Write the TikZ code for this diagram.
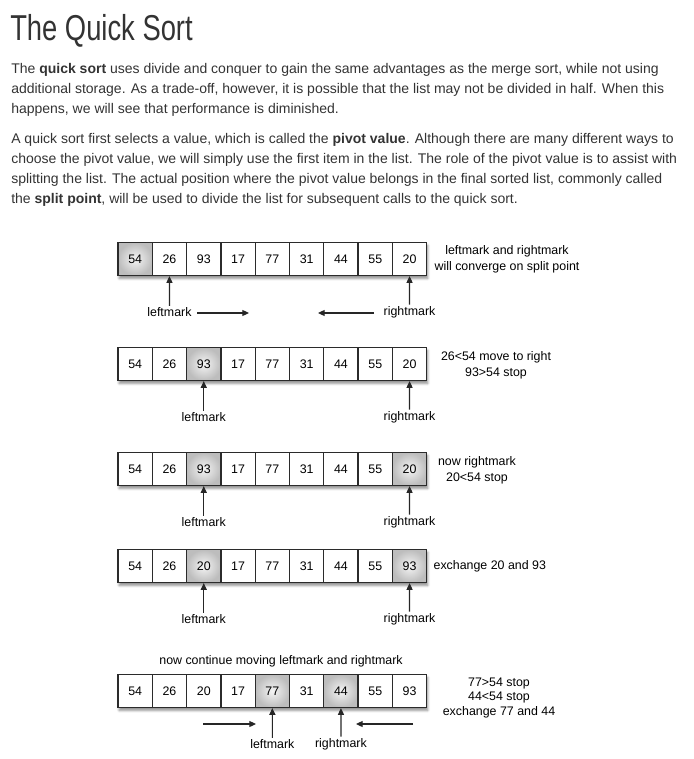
\documentclass[tikz,border=0pt]{standalone}
\usepackage{fontspec}
\setmainfont{Liberation Sans}
\newfontfamily\titlefont{Liberation Sans}[FakeStretch=0.76]
\newfontfamily\diagfont{Liberation Sans}
\usetikzlibrary{arrows.meta,shadows,shadows.blur}
\definecolor{bodytext}{HTML}{333333}
\definecolor{cellline}{HTML}{2B2B2B}
\tikzset{
  cellbox/.style={draw=cellline, line width=0.9pt, fill=white, minimum width=25.7pt, minimum height=24.75pt, inner sep=0pt, font=\diagfont\fontsize{9.3}{11}\selectfont},
  pivotbox/.style={cellbox, inner color=gray!8, outer color=gray!52},
  rowback/.style={minimum width=231.5pt, minimum height=24.75pt, fill=white, inner sep=0pt, blur shadow={shadow xshift=0.8pt, shadow yshift=-2.2pt, shadow blur steps=6, shadow blur radius=1.8pt, shadow opacity=45}},
  lab/.style={font=\diagfont\fontsize{9.3}{12}\selectfont, inner sep=1pt, align=center},
  markarrow/.style={-{Triangle[length=5pt,width=4.5pt]}, line width=0.85pt, draw=black!85},
  para/.style={anchor=base west, inner sep=0pt, text=bodytext, font=\fontsize{10.5}{15}\selectfont}
}
\begin{document}
\begin{tikzpicture}[x=0.75pt,y=0.75pt,yscale=-1,xscale=1]
\useasboundingbox (0,0) rectangle (693,759);

% Title and text
\node[anchor=base west, inner sep=0pt, text=bodytext, font=\titlefont\fontsize{27}{30}\selectfont] (title) at (10,40.7) {The Quick Sort};
\node[para] (p1) at (11,74) {The \textbf{quick sort} uses divide and conquer to gain the same advantages as the merge sort, while not using};
\node[para] (p2) at (11,94) {additional storage. As a trade-off, however, it is possible that the list may not be divided in half. When this};
\node[para] (p3) at (11,113.5) {happens, we will see that performance is diminished.};
\node[para] (p4) at (11,143.3) {A quick sort first selects a value, which is called the \textbf{pivot value}. Although there are many different ways to};
\node[para] (p5) at (11,163.3) {choose the pivot value, we will simply use the first item in the list. The role of the pivot value is to assist with};
\node[para] (p6) at (11,183.3) {splitting the list. The actual position where the pivot value belongs in the final sorted list, commonly called};
\node[para] (p7) at (11,203.3) {the \textbf{split point}, will be used to divide the list for subsequent calls to the quick sort.};

% Row 1
\node[rowback] (row1) at (272.35,259) {};
\foreach \v/\s [count=\i] in {54/pivotbox,26/cellbox,93/cellbox,17/cellbox,77/cellbox,31/cellbox,44/cellbox,55/cellbox,20/cellbox}
  \node[\s] (r1c\i) at (100.85+34.3*\i,259) {\v};
\node[lab] (lm1) at (169.45,312) {leftmark};
\node[lab] (rm1) at (409.55,312) {rightmark};
\draw[markarrow] (lm1) -- (r1c2);
\draw[markarrow] (rm1) -- (r1c9);
\coordinate (go1a) at (197,313);
\coordinate (go1b) at (249,313);
\coordinate (go1c) at (374,313);
\coordinate (go1d) at (318,313);
\draw[markarrow] (go1a) -- (go1b);
\draw[markarrow] (go1c) -- (go1d);
\node[lab] (note1) at (507,259) {leftmark and rightmark\\will converge on split point};

% Row 2
\node[rowback] (row2) at (272.35,364) {};
\foreach \v/\s [count=\i] in {54/cellbox,26/cellbox,93/pivotbox,17/cellbox,77/cellbox,31/cellbox,44/cellbox,55/cellbox,20/cellbox}
  \node[\s] (r2c\i) at (100.85+34.3*\i,364) {\v};
\node[lab] (lm2) at (203.75,417) {leftmark};
\node[lab] (rm2) at (409.55,417) {rightmark};
\draw[markarrow] (lm2) -- (r2c3);
\draw[markarrow] (rm2) -- (r2c9);
\node[lab] (note2) at (496,365) {26<54 move to right\\93>54 stop};

% Row 3
\node[rowback] (row3) at (272.35,469) {};
\foreach \v/\s [count=\i] in {54/cellbox,26/cellbox,93/pivotbox,17/cellbox,77/cellbox,31/cellbox,44/cellbox,55/cellbox,20/pivotbox}
  \node[\s] (r3c\i) at (100.85+34.3*\i,469) {\v};
\node[lab] (lm3) at (203.75,522) {leftmark};
\node[lab] (rm3) at (409.55,522) {rightmark};
\draw[markarrow] (lm3) -- (r3c3);
\draw[markarrow] (rm3) -- (r3c9);
\node[lab] (note3) at (477,470) {now rightmark\\20<54 stop};

% Row 4
\node[rowback] (row4) at (272.35,566) {};
\foreach \v/\s [count=\i] in {54/cellbox,26/cellbox,20/pivotbox,17/cellbox,77/cellbox,31/cellbox,44/cellbox,55/cellbox,93/pivotbox}
  \node[\s] (r4c\i) at (100.85+34.3*\i,566) {\v};
\node[lab] (lm4) at (203.75,619) {leftmark};
\node[lab] (rm4) at (409.55,619) {rightmark};
\draw[markarrow] (lm4) -- (r4c3);
\draw[markarrow] (rm4) -- (r4c9);
\node[lab, anchor=west] (note4) at (432,566) {exchange 20 and 93};

% Row 5
\node[lab] (head5) at (281,661) {now continue moving leftmark and rightmark};
\node[rowback] (row5) at (272.35,691) {};
\foreach \v/\s [count=\i] in {54/cellbox,26/cellbox,20/cellbox,17/cellbox,77/pivotbox,31/cellbox,44/pivotbox,55/cellbox,93/cellbox}
  \node[\s] (r5c\i) at (100.85+34.3*\i,691) {\v};
\node[lab] (lm5) at (272.35,744) {leftmark};
\node[lab] (rm5) at (340.95,744) {rightmark};
\draw[markarrow] (lm5) -- (r5c5);
\draw[markarrow] (rm5) -- (r5c7);
\coordinate (go5a) at (203,724);
\coordinate (go5b) at (256,724);
\coordinate (go5c) at (413,724);
\coordinate (go5d) at (356,724);
\draw[markarrow] (go5a) -- (go5b);
\draw[markarrow] (go5c) -- (go5d);
\node[lab, font=\diagfont\fontsize{9.3}{11}\selectfont] (note5) at (499,698) {77>54 stop\\44<54 stop\\exchange 77 and 44};

\end{tikzpicture}
\end{document}
